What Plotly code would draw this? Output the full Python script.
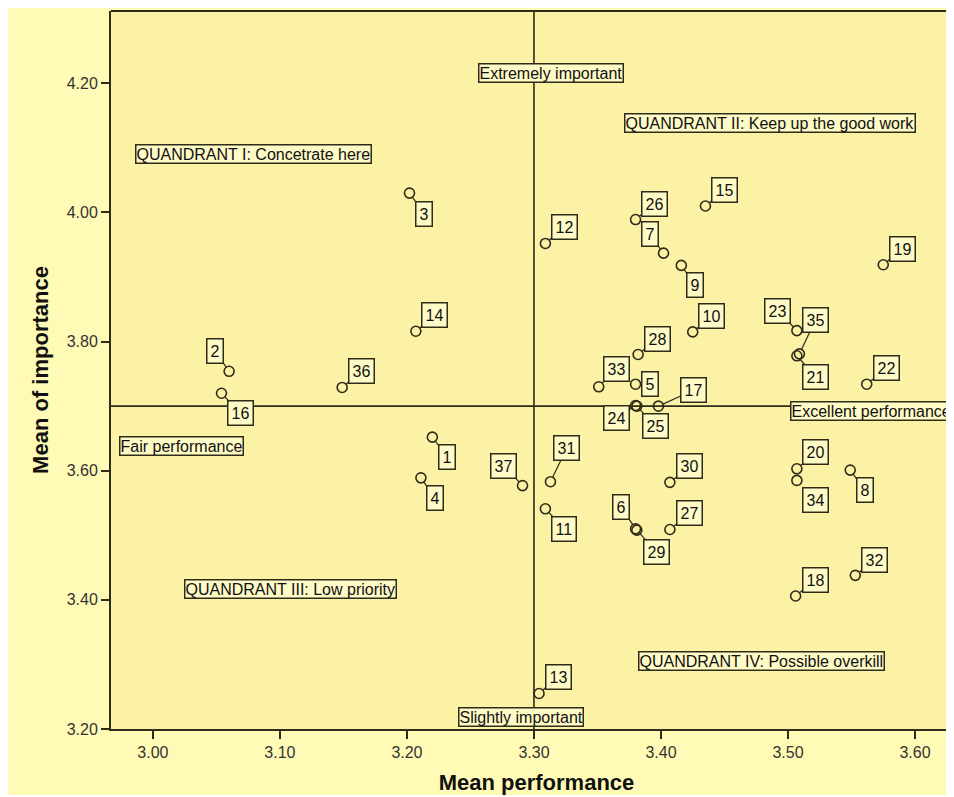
import plotly.graph_objects as go

# ---- data ----
item_ids = [str(i) for i in range(1, 38)]
mean_performance = [3.220, 3.060, 3.202, 3.211, 3.380, 3.380, 3.402, 3.549, 3.416, 3.425,
                    3.309, 3.309, 3.304, 3.207, 3.435, 3.054, 3.398, 3.506, 3.575, 3.507,
                    3.507, 3.562, 3.507, 3.380, 3.381, 3.380, 3.407, 3.382, 3.381, 3.407,
                    3.313, 3.553, 3.351, 3.507, 3.509, 3.149, 3.291]
mean_importance = [3.652, 3.754, 4.030, 3.589, 3.734, 3.510, 3.937, 3.601, 3.918, 3.815,
                   3.541, 3.952, 3.255, 3.816, 4.010, 3.720, 3.700, 3.406, 3.919, 3.603,
                   3.778, 3.734, 3.817, 3.701, 3.700, 3.989, 3.509, 3.780, 3.508, 3.582,
                   3.583, 3.438, 3.730, 3.585, 3.781, 3.729, 3.577]
ref_performance = 3.30
ref_importance = 3.70
x_ticks = [3.00, 3.10, 3.20, 3.30, 3.40, 3.50, 3.60]
y_ticks = [3.20, 3.40, 3.60, 3.80, 4.00, 4.20]

# ---- label placement (pixel offsets of each point label) ----
label_offsets = [(15, 20), (-14, -20), (14.5, 20.5), (14, 20), (14, 0), (-14.5, -21.5),
                 (-14, -19), (14.5, 20), (14, 20), (19, -16), (19, 20), (19, -16.5),
                 (19, -16.5), (19, -16), (19, -16), (19, 20), (35, -16), (19.5, -16),
                 (19, -16), (19, -16.5), (19, 21), (19.5, -16), (-19, -20), (-19.5, 12.5),
                 (18.5, 20), (18.5, -16), (19.5, -16), (19.5, -16), (19.5, 21.5), (20, -16),
                 (16.5, -34), (19, -15.5), (17.5, -18), (19, 19.5), (16, -33.5),
                 (19.5, -16.5), (-19, -20)]

INK = "#2e2c18"
BOX_BG = "#FFFBC6"
PLOT_BG = "#FCF2A6"
PAPER_BG = "#FFFBB6"
FONT = "Liberation Sans, Arial, sans-serif"

fig = go.Figure()

fig.add_trace(go.Scatter(
    x=mean_performance, y=mean_importance, mode="markers",
    marker=dict(symbol="circle-open", size=10, color=INK, line=dict(width=1.6, color=INK)),
    hovertext=item_ids, showlegend=False,
))

annotations = []
for name, xv, yv, (ox, oy) in zip(item_ids, mean_performance, mean_importance, label_offsets):
    annotations.append(dict(
        x=xv, y=yv, xref="x", yref="y", text=name, showarrow=True,
        ax=ox, ay=oy, arrowhead=0, arrowwidth=1.2, arrowcolor=INK, standoff=5,
        font=dict(family=FONT, size=16, color="#111"),
        bgcolor=BOX_BG, bordercolor=INK, borderwidth=1.5, borderpad=3,
    ))

text_labels = [
    ("Extremely important", 3.3132, 4.2167, "center"),
    ("Slightly important", 3.2894, 3.2186, "center"),
    ("Fair performance", 3.0226, 3.638, "center"),
    ("Excellent performance", 3.5016, 3.693, "left"),
    ("QUANDRANT I: Concetrate here", 3.0795, 4.0898, "center"),
    ("QUANDRANT II: Keep up the good work", 3.4858, 4.1389, "center"),
    ("QUANDRANT III: Low priority", 3.1085, 3.4172, "center"),
    ("QUANDRANT IV: Possible overkill", 3.4795, 3.3049, "center"),
]
for txt, xv, yv, anchor in text_labels:
    annotations.append(dict(
        x=xv, y=yv, xref="x", yref="y", text=txt, showarrow=False, xanchor=anchor,
        font=dict(family=FONT, size=16, color="#111"),
        bgcolor=BOX_BG, bordercolor=INK, borderwidth=1.5, borderpad=0,
    ))

shapes = [
    dict(type="line", xref="x", yref="paper", x0=ref_performance, x1=ref_performance, y0=0, y1=1,
         line=dict(color=INK, width=1.6), layer="below"),
    dict(type="line", xref="paper", yref="y", x0=0, x1=1, y0=ref_importance, y1=ref_importance,
         line=dict(color=INK, width=1.6), layer="below"),
    dict(type="line", xref="paper", yref="paper", x0=0, x1=1, y0=1, y1=1,
         line=dict(color=INK, width=2)),
]

fig.update_layout(
    width=954, height=787,
    margin=dict(l=103, r=0, t=3, b=66),
    paper_bgcolor=PAPER_BG, plot_bgcolor=PLOT_BG,
    font=dict(family=FONT, color="#333"),
    annotations=annotations, shapes=shapes,
    xaxis=dict(
        range=[2.967, 3.6370], tickvals=x_ticks, tickformat=".2f",
        ticks="outside", ticklen=8, tickwidth=2, tickcolor=INK,
        showline=True, linecolor=INK, linewidth=2, showgrid=False, zeroline=False,
        tickfont=dict(family=FONT, size=16, color="#333"),
        title=dict(text="<b>Mean performance</b>", standoff=15,
                   font=dict(family=FONT, size=22, color="#111")),
    ),
    yaxis=dict(
        range=[3.20, 4.312], tickvals=y_ticks, tickformat=".2f",
        ticks="outside", ticklen=8, tickwidth=2, tickcolor=INK,
        showline=True, linecolor=INK, linewidth=2, showgrid=False, zeroline=False,
        tickfont=dict(family=FONT, size=16, color="#333"),
        title=dict(text="<b>Mean of importance</b>", standoff=12,
                   font=dict(family=FONT, size=22, color="#111")),
    ),
)

fig.write_html("out.html")
